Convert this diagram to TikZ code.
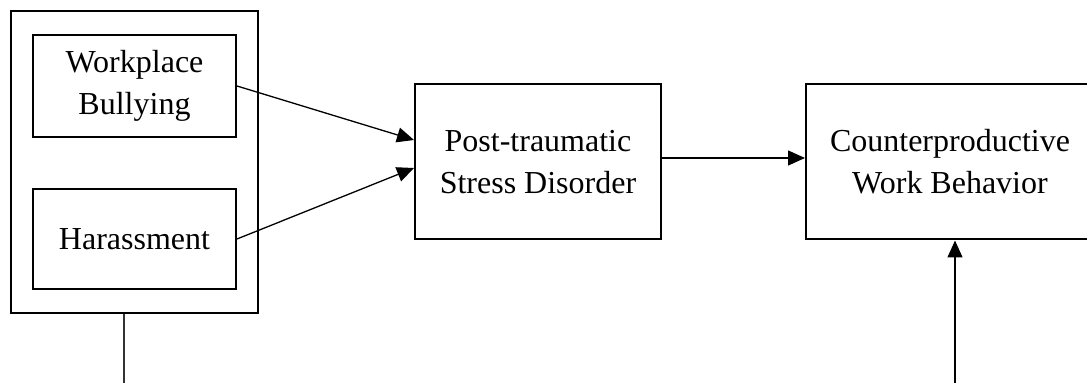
\documentclass[tikz,border=0pt]{standalone}
\usepackage{fontspec}
\setmainfont{Liberation Serif}
\usetikzlibrary{arrows.meta,positioning,fit}

\begin{document}
\begin{tikzpicture}[x=1pt, y=1pt,
  box/.style={draw, line width=2pt, align=center, inner sep=0pt,
    font=\fontsize{32}{42}\selectfont},
  arr/.style={-{Triangle[length=17pt,width=15pt]}, line width=1.3pt},
  node distance=50pt]
\useasboundingbox (0,0) rectangle (1087,383);
\clip (0,0) rectangle (1087,383);
% two predictors inside one frame
\node[box, minimum width=203pt, minimum height=102pt] (bully) at (134.5,297)
  {Workplace\\Bullying};
\node[box, minimum width=203pt, minimum height=100pt, below=of bully] (harass)
  {Harassment};
\node[box, fit=(bully)(harass), inner xsep=21pt, inner ysep=23pt] (outer) {};
% mediator and outcome
\node[box, minimum width=246pt, minimum height=155pt, right=155pt of outer] (ptsd)
  {Post-traumatic\\Stress Disorder};
\node[box, minimum width=288pt, minimum height=155pt, right=143pt of ptsd] (cwb)
  {Counterproductive\\Work Behavior};
\coordinate (lowL) at (124,0);
\coordinate (lowR) at (955,0);
\draw[arr] (bully.east) -- ([yshift=22pt]ptsd.west);
\draw[arr] (harass.east) -- ([yshift=-6pt]ptsd.west);
\draw[arr] ([yshift=4pt]ptsd.east) -- ([yshift=4pt]cwb.west);
\draw[line width=1.3pt, black!80] (outer.south -| lowL) -- (lowL);
\draw[arr] (lowR) -- (lowR |- cwb.south);
\end{tikzpicture}
\end{document}
